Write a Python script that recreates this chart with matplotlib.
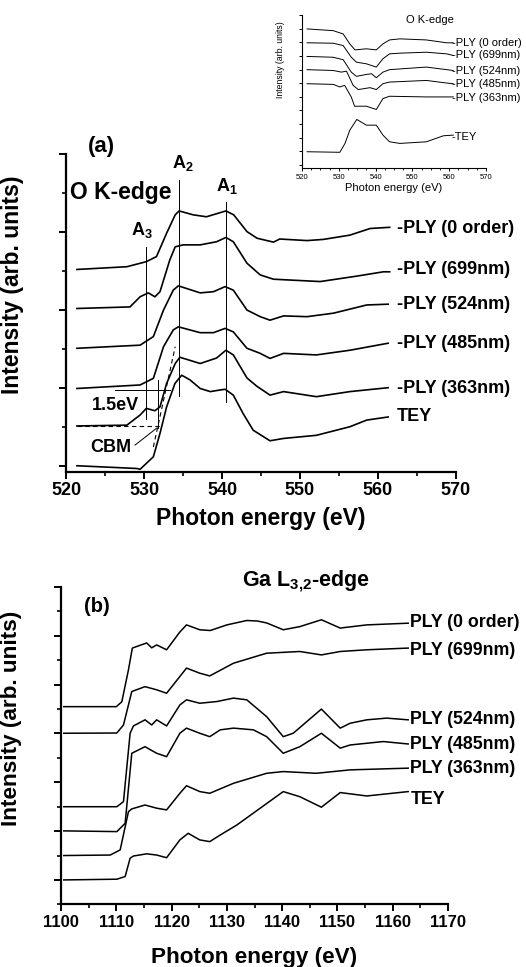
import matplotlib
matplotlib.use("Agg")
import matplotlib.pyplot as plt
from matplotlib.ticker import MultipleLocator

plt.rcParams['font.family'] = ['Liberation Sans', 'DejaVu Sans']
plt.rcParams['mathtext.fontset'] = 'custom'
plt.rcParams['mathtext.rm'] = 'Liberation Sans:bold'
plt.rcParams['mathtext.bf'] = 'Liberation Sans:bold'
plt.rcParams['mathtext.it'] = 'Liberation Sans:bold'

# ---------------- datos O K-edge (panel a) ----------------
o_labels = ["-PLY (0 order)", "-PLY (699nm)", "-PLY (524nm)", "-PLY (485nm)", "-PLY (363nm)", "TEY"]

o_e_0order = [521.4, 527.8, 530.3, 531.6, 532.9, 534.0, 534.5, 536.3, 538.0, 539.5, 540.5, 541.5,
              543.2, 544.5, 546.6, 547.4, 550.9, 553.0, 556.4, 559.0, 561.5]
o_i_0order = [5.04, 5.11, 5.24, 5.37, 5.97, 6.44, 6.54, 6.44, 6.39, 6.48, 6.54, 6.44,
              6.01, 5.84, 5.74, 5.82, 5.78, 5.81, 5.92, 6.09, 6.12]

o_e_699 = [521.4, 528.2, 529.5, 530.55, 531.4, 532.05, 533.3, 534.0, 535.0, 537.2, 539.3, 540.5,
           541.45, 543.2, 544.9, 546.6, 552.6, 557.3, 560.7, 561.5]
o_i_699 = [4.04, 4.08, 4.34, 4.44, 4.34, 4.47, 5.28, 5.62, 5.67, 5.67, 5.75, 5.86,
           5.75, 5.20, 4.90, 4.79, 4.73, 4.87, 4.98, 4.98]

o_e_524 = [521.4, 529.5, 531.2, 532.5, 533.75, 534.4, 537.2, 538.9, 540.4, 541.45, 543.2, 544.9,
           546.15, 547.9, 550.9, 554.3, 558.55, 561.3]
o_i_524 = [3.02, 3.10, 3.32, 4.0, 4.51, 4.62, 4.44, 4.47, 4.60, 4.51, 4.0, 3.83,
           3.74, 3.85, 3.83, 3.92, 4.13, 4.15]

o_e_485 = [521.4, 529.5, 531.2, 532.5, 533.75, 534.4, 537.2, 538.9, 540.4, 541.45, 543.2, 544.9,
           546.15, 547.9, 552.1, 556.4, 561.3]
o_i_485 = [1.99, 2.08, 2.25, 3.06, 3.49, 3.57, 3.42, 3.42, 3.53, 3.44, 3.02, 2.89,
           2.76, 2.89, 2.85, 2.97, 3.15]

o_e_363 = [521.4, 527.8, 529.5, 530.3, 531.4, 532.05, 532.9, 534.0, 534.6, 537.2, 539.3, 540.5,
           541.45, 543.2, 544.45, 546.15, 547.9, 552.1, 556.4, 561.3]
o_i_363 = [1.03, 1.05, 1.31, 1.48, 1.42, 1.52, 2.12, 2.63, 2.79, 2.63, 2.77, 2.97,
           2.85, 2.26, 2.05, 1.82, 1.91, 1.78, 1.91, 2.01]

o_e_tey = [521.4, 529.06, 529.5, 531.2, 532.05, 532.9, 533.97, 534.83, 535.9, 537.2, 538.5, 539.7,
           540.4, 541.45, 542.7, 544.0, 546.15, 547.9, 552.1, 556.4, 558.55, 561.3]
o_i_tey = [0.01, -0.06, -0.08, 0.24, 0.84, 1.52, 2.12, 2.33, 2.21, 1.99, 1.91, 1.95,
           1.97, 1.82, 1.35, 0.92, 0.65, 0.71, 0.79, 1.01, 1.18, 1.26]

o_label_y = [6.10, 5.03, 4.15, 3.15, 2.0, 1.26]

# picos A1, A2, A3 (energia, y inferior, y superior)
picos_nombre = ["A$_\\mathregular{1}$", "A$_\\mathregular{2}$", "A$_\\mathregular{3}$"]
picos_e = [540.45, 534.5, 530.3]
picos_ymin = [1.65, 1.79, 1.22]
picos_ymax = [6.78, 7.33, 5.62]

# ---------------- datos inset ----------------
in_e_0order = [521.4, 528.5, 531.2, 533.0, 534.4, 537.5, 540.2, 542.0, 543.8, 546.6, 553.8, 559.3, 561.1]
in_i_0order = [9.98, 9.85, 9.61, 8.88, 8.44, 8.52, 8.44, 8.88, 9.17, 9.25, 9.17, 8.96, 8.96]
in_e_699 = [521.4, 528.5, 531.2, 533.4, 534.8, 537.5, 540.2, 542.0, 543.8, 546.6, 553.8, 559.3, 561.1]
in_i_699 = [8.96, 8.93, 8.76, 7.90, 7.54, 7.42, 7.18, 7.79, 8.15, 8.20, 8.27, 8.15, 8.03]
in_e_524 = [521.4, 528.5, 531.2, 533.4, 534.8, 537.5, 538.9, 540.2, 542.0, 543.8, 553.8, 559.3, 561.1]
in_i_524 = [7.96, 7.90, 7.72, 6.81, 6.50, 6.64, 6.69, 6.40, 6.81, 6.99, 7.18, 6.99, 6.93]
in_e_485 = [521.4, 528.5, 530.7, 532.1, 533.9, 535.3, 538.5, 540.2, 542.0, 543.8, 553.8, 559.3, 561.1]
in_i_485 = [6.99, 6.93, 6.81, 6.88, 5.84, 5.53, 5.67, 5.53, 5.96, 6.08, 6.20, 6.01, 5.96]
in_e_363 = [521.4, 528.5, 530.3, 531.6, 533.4, 534.3, 537.5, 540.2, 542.0, 543.8, 553.8, 559.3, 561.1]
in_i_363 = [5.96, 5.91, 5.72, 5.84, 4.99, 4.31, 4.31, 4.07, 4.87, 5.04, 4.99, 4.99, 4.99]
in_e_tey = [521.4, 530.3, 531.7, 533.0, 534.9, 537.5, 540.2, 542.0, 543.8, 546.6, 553.8, 558.4, 561.1]
in_i_tey = [0.97, 0.93, 1.58, 2.55, 3.34, 2.92, 2.92, 2.19, 1.70, 1.58, 1.70, 2.14, 2.19]

in_labels = ["-PLY (0 order)", "-PLY (699nm)", "-PLY (524nm)", "-PLY (485nm)", "-PLY (363nm)", "-TEY"]
in_label_y = [8.91, 8.03, 6.88, 5.96, 4.94, 2.04]

# ---------------- datos Ga L-edge (panel b) ----------------
ga_labels = ["PLY (0 order)", "PLY (699nm)", "PLY (524nm)", "PLY (485nm)", "PLY (363nm)", "TEY"]

ga_e_0order = [1100.5, 1110.0, 1111.0, 1112.2, 1112.9, 1115.5, 1116.4, 1117.3, 1119.1, 1121.5, 1122.7,
               1125.1, 1127.0, 1130.0, 1133.6, 1135.5, 1137.2, 1140.2, 1143.2, 1147.1, 1150.5, 1155.3, 1162.8]
ga_i_0order = [7.10, 7.10, 7.30, 8.61, 9.50, 9.71, 9.51, 9.63, 9.43, 10.16, 10.45,
               10.25, 10.22, 10.45, 10.63, 10.61, 10.53, 10.25, 10.38, 10.66, 10.32, 10.45, 10.52]

ga_e_699 = [1100.5, 1110.1, 1111.3, 1112.8, 1115.2, 1117.3, 1119.1, 1122.7, 1125.1, 1126.9, 1131.2,
            1137.2, 1143.2, 1147.1, 1150.5, 1155.3, 1162.8]
ga_i_699 = [6.01, 6.02, 6.35, 7.72, 7.92, 7.79, 7.65, 8.68, 8.47, 8.36, 8.88,
            9.29, 9.36, 9.22, 9.36, 9.43, 9.50]

ga_e_524 = [1100.5, 1110.1, 1111.3, 1112.5, 1113.1, 1115.2, 1116.4, 1117.3, 1119.1, 1121.5, 1122.7, 1125.1,
            1128.2, 1131.2, 1133.6, 1137.2, 1140.2, 1142.0, 1147.1, 1150.5, 1152.3, 1155.3, 1158.9, 1162.8]
ga_i_524 = [3.00, 3.00, 3.21, 6.01, 6.31, 6.56, 6.35, 6.56, 6.31, 7.17, 7.38, 7.24,
            7.31, 7.45, 7.38, 6.69, 5.87, 6.01, 7.00, 6.22, 6.42, 6.56, 6.63, 6.56]

ga_e_485 = [1100.5, 1110.1, 1111.6, 1112.8, 1115.2, 1117.3, 1119.1, 1121.5, 1122.7, 1125.1, 1126.9,
            1128.8, 1131.2, 1134.8, 1137.2, 1140.2, 1143.2, 1147.1, 1150.5, 1152.3, 1158.3, 1162.8]
ga_i_485 = [2.01, 1.98, 2.32, 5.19, 5.46, 5.19, 5.05, 6.01, 6.22, 6.01, 5.87,
            6.15, 6.22, 6.15, 5.87, 5.19, 5.46, 6.01, 5.40, 5.53, 5.67, 5.57]

ga_e_363 = [1100.5, 1108.9, 1110.7, 1112.2, 1112.8, 1115.2, 1117.3, 1119.1, 1121.5, 1122.7, 1125.1,
            1126.9, 1131.2, 1137.2, 1140.2, 1146.2, 1152.3, 1162.8]
ga_i_363 = [1.00, 1.02, 1.23, 2.80, 2.91, 3.07, 2.94, 2.87, 3.55, 3.86, 3.62,
            3.55, 3.96, 4.37, 4.44, 4.37, 4.51, 4.58]

ga_e_tey = [1100.5, 1110.1, 1111.6, 1112.5, 1113.1, 1115.5, 1117.3, 1119.1, 1121.5, 1123.0, 1125.1,
            1126.9, 1128.8, 1131.8, 1140.2, 1143.2, 1147.1, 1150.5, 1155.3, 1162.8]
ga_i_tey = [0.0, 0.03, 0.14, 0.89, 0.98, 1.07, 1.02, 0.91, 1.64, 1.91, 1.64,
            1.57, 1.84, 2.25, 3.62, 3.41, 2.98, 3.58, 3.44, 3.62]

ga_label_y = [10.53, 9.39, 6.56, 5.56, 4.58, 3.28]


def estilo_ejes(ax, lw=1.6):
    ax.spines["top"].set_visible(False)
    ax.spines["right"].set_visible(False)
    ax.spines["left"].set_linewidth(lw)
    ax.spines["bottom"].set_linewidth(lw)
    ax.set_yticklabels([])


fig = plt.figure(figsize=(5.26, 9.67), dpi=100)

# ---------------- panel (a) ----------------
ax = fig.add_axes([0.1255, 0.5119, 0.7414, 0.3289])
estilo_ejes(ax)
curvas_o = [(o_e_0order, o_i_0order), (o_e_699, o_i_699), (o_e_524, o_i_524),
            (o_e_485, o_i_485), (o_e_363, o_i_363), (o_e_tey, o_i_tey)]
for (e, i), lab, ly in zip(curvas_o, o_labels, o_label_y):
    ax.plot(e, i, color="black", lw=1.2)
    ax.text(562.4, ly, lab, fontsize=13, fontweight="bold", va="center", ha="left", clip_on=False)

for nom, e, y0, y1 in zip(picos_nombre, picos_e, picos_ymin, picos_ymax):
    ax.plot([e, e], [y0, y1], color="black", lw=0.7)
ax.text(540.6, 7.18, picos_nombre[0], fontsize=13, fontweight="bold", ha="center", va="center")
ax.text(535.0, 7.76, picos_nombre[1], fontsize=13, fontweight="bold", ha="center", va="center")
ax.text(529.7, 6.05, picos_nombre[2], fontsize=13, fontweight="bold", ha="center", va="center")

# CBM y 1.5 eV
ax.plot([526.3, 533.3], [1.95, 1.95], color="black", lw=0.7)
ax.plot([531.8, 531.8], [0.98, 2.2], color="black", lw=0.7)
ax.plot([521.4, 532.05], [1.03, 1.03], color="black", lw=0.8, ls=(0, (4, 3)))
ax.plot([531.2, 534.0], [0.49, 3.06], color="black", lw=0.8, ls=(0, (4, 3)))
ax.plot([528.85, 531.6], [0.54, 0.97], color="black", lw=0.7)
ax.text(526.3, 1.56, "1.5eV", fontsize=13, fontweight="bold", ha="center", va="center")
ax.text(525.8, 0.49, "CBM", fontsize=13, fontweight="bold", ha="center", va="center")
ax.text(527.05, 7.0, "O K-edge", fontsize=16.5, fontweight="bold", ha="center", va="center")
ax.text(524.6, 8.18, "(a)", fontsize=16, fontweight="bold", ha="center", va="center", clip_on=False)

ax.set_xlim(520, 570)
ax.set_ylim(-0.15, 8.0)
ax.xaxis.set_major_locator(MultipleLocator(10))
ax.xaxis.set_minor_locator(MultipleLocator(5))
ax.yaxis.set_major_locator(MultipleLocator(2))
ax.yaxis.set_minor_locator(MultipleLocator(1))
ax.tick_params(which="major", direction="out", length=5, width=1.4, labelsize=13, pad=2)
ax.tick_params(which="minor", direction="out", length=3, width=1.2)
for t in ax.get_xticklabels():
    t.set_fontweight("bold")
ax.set_yticklabels([])
ax.set_xlabel("Photon energy (eV)", fontsize=16.5, fontweight="bold", labelpad=6)
ax.set_ylabel("Intensity (arb. units)", fontsize=16.5, fontweight="bold")
ax.yaxis.set_label_coords(-0.108, 0.588)

# ---------------- inset ----------------
axi = fig.add_axes([0.574, 0.8263, 0.350, 0.1582])
estilo_ejes(axi, lw=0.8)
curvas_in = [(in_e_0order, in_i_0order), (in_e_699, in_i_699), (in_e_524, in_i_524),
             (in_e_485, in_i_485), (in_e_363, in_i_363), (in_e_tey, in_i_tey)]
for (e, i), lab, ly in zip(curvas_in, in_labels, in_label_y):
    axi.plot(e, i, color="black", lw=0.7)
    axi.text(560.7, ly, lab, fontsize=8, va="center", ha="left", clip_on=False)
axi.text(554.8, 10.66, "O K-edge", fontsize=8, ha="center", va="center")
axi.set_xlim(520, 570)
axi.set_ylim(-0.22, 11.0)
axi.xaxis.set_major_locator(MultipleLocator(10))
axi.xaxis.set_minor_locator(MultipleLocator(2.5))
axi.yaxis.set_major_locator(MultipleLocator(1))
axi.tick_params(which="major", direction="out", length=2.5, width=0.7, labelsize=5.5, pad=1.5)
axi.tick_params(which="minor", direction="out", length=1.5, width=0.6)
axi.set_yticklabels([])
axi.set_xlabel("Photon energy (eV)", fontsize=8, labelpad=2)
axi.set_ylabel("Intensity (arb. units)", fontsize=6.3)
axi.yaxis.set_label_coords(-0.092, 0.706)

# ---------------- panel (b) ----------------
axb = fig.add_axes([0.116, 0.0648, 0.7357, 0.3281])
estilo_ejes(axb)
curvas_ga = [(ga_e_0order, ga_i_0order), (ga_e_699, ga_i_699), (ga_e_524, ga_i_524),
             (ga_e_485, ga_i_485), (ga_e_363, ga_i_363), (ga_e_tey, ga_i_tey)]
for (e, i), lab, ly in zip(curvas_ga, ga_labels, ga_label_y):
    axb.plot(e, i, color="black", lw=1.1)
    axb.text(1163.2, ly, lab, fontsize=12.8, fontweight="bold", va="center", ha="left", clip_on=False)
axb.text(1144.3, 12.23, "Ga L$_\\mathregular{3{,}2}$-edge", fontsize=15.5, fontweight="bold",
         ha="center", va="center", clip_on=False)
axb.text(1106.4, 11.2, "(b)", fontsize=14.5, fontweight="bold", ha="center", va="center")

axb.set_xlim(1100, 1170)
axb.set_ylim(-1, 12)
axb.xaxis.set_major_locator(MultipleLocator(10))
axb.xaxis.set_minor_locator(MultipleLocator(5))
axb.yaxis.set_major_locator(MultipleLocator(2))
axb.yaxis.set_minor_locator(MultipleLocator(1))
axb.tick_params(which="major", direction="out", length=5, width=1.4, labelsize=12, pad=3)
axb.tick_params(which="minor", direction="out", length=3, width=1.2)
for t in axb.get_xticklabels():
    t.set_fontweight("bold")
axb.set_yticklabels([])
axb.set_xlabel("Photon energy (eV)", fontsize=16.2, fontweight="bold", labelpad=12)
axb.set_ylabel("Intensity (arb. units)", fontsize=16.2, fontweight="bold")
axb.yaxis.set_label_coords(-0.10, 0.587)

plt.savefig("out.png", dpi=100)
